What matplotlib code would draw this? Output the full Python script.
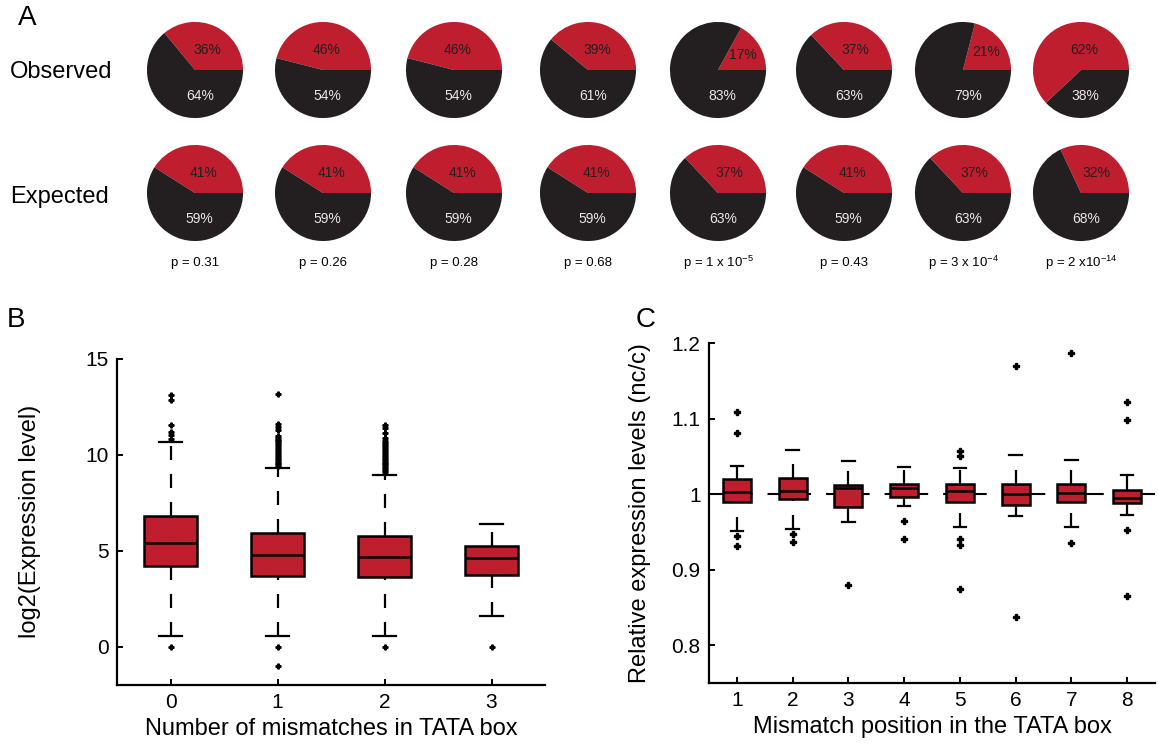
import numpy as np
import matplotlib.pyplot as plt

plt.rcParams['font.family'] = ['Liberation Sans', 'DejaVu Sans']
plt.rcParams['mathtext.fontset'] = 'custom'
plt.rcParams['mathtext.rm'] = 'Liberation Sans'
plt.rcParams['mathtext.it'] = 'Liberation Sans:italic'

RED = '#BE1E2D'
DARK = '#231F20'

# panel A: share of red vs black in each group
obs_red = [36, 46, 46, 39, 17, 37, 21, 62]
exp_red = [41, 41, 41, 41, 37, 41, 37, 32]
p_labels = ['p = 0.31', 'p = 0.26', 'p = 0.28', 'p = 0.68',
            r'p = 1 x 10$^{-5}$', 'p = 0.43', r'p = 3 x 10$^{-4}$',
            r'p = 2 x10$^{-14}$']

# panel B: expression by number of mismatches
b_pos = [0, 1, 2, 3]
b_q1 = [4.22, 3.70, 3.63, 3.75]
b_med = [5.42, 4.79, 4.69, 4.64]
b_q3 = [6.82, 5.94, 5.78, 5.26]
b_lo = [0.57, 0.57, 0.57, 1.61]
b_hi = [10.68, 9.32, 8.96, 6.40]
b_fliers = [
    [0.0, 10.85, 11.05, 11.2, 11.55, 12.86, 13.1],
    [-1.0, 0.0, 9.4, 9.5, 9.6, 9.7, 9.8, 9.9, 10.0, 10.1, 10.2, 10.3,
     10.4, 10.5, 10.6, 10.7, 10.8, 10.9, 11.0, 11.3, 11.45, 11.6, 13.2],
    [0.0, 9.1, 9.2, 9.3, 9.4, 9.5, 9.6, 9.7, 9.8, 9.9, 10.0, 10.1, 10.2,
     10.3, 10.4, 10.5, 10.6, 10.75, 10.9, 11.15, 11.4, 11.55],
    [0.0],
]

# panel C: relative expression by mismatch position
c_pos = [1, 2, 3, 4, 5, 6, 7, 8]
c_q1 = [0.989, 0.993, 0.983, 0.996, 0.989, 0.985, 0.989, 0.988]
c_med = [1.003, 1.004, 1.008, 1.008, 1.004, 1.000, 1.001, 0.995]
c_q3 = [1.020, 1.021, 1.012, 1.013, 1.013, 1.013, 1.013, 1.005]
c_lo = [0.951, 0.954, 0.963, 0.984, 0.956, 0.971, 0.956, 0.973]
c_hi = [1.037, 1.058, 1.044, 1.036, 1.035, 1.052, 1.045, 1.025]
c_fliers = [
    [1.109, 1.081, 0.944, 0.931],
    [0.947, 0.936],
    [0.880],
    [0.964, 0.940],
    [1.057, 1.050, 0.940, 0.932, 0.875],
    [1.169, 0.837],
    [1.187, 0.935],
    [1.122, 1.098, 0.952, 0.865],
]

W, H = 1158, 753
fig = plt.figure(figsize=(W / 100, H / 100), dpi=100)


def px_axes(x0, y0, w, h):
    return fig.add_axes([x0 / W, 1 - (y0 + h) / H, w / W, h / H])


def draw_pie(cx, cy, red):
    d = 98
    ax = px_axes(cx - d / 2, cy - d / 2, d, d)
    black = 100 - red
    ax.pie([red, black], colors=[RED, DARK], startangle=0, counterclock=True,
           wedgeprops=dict(linewidth=0))
    mid = np.deg2rad(red * 3.6 / 2)
    tx = max(0.6 * np.cos(mid), 0.06)
    ty = min(0.6 * np.sin(mid), 0.42)
    ax.text(tx, ty, f'{red}%', ha='center', va='center', fontsize=10, color=DARK)
    ax.text(0.1, -0.55, f'{black}%', ha='center', va='center', fontsize=10,
            color='#E8E8E8')
    ax.set_xlim(-1.02, 1.02)
    ax.set_ylim(-1.02, 1.02)
    ax.set_aspect('auto')
    ax.axis('off')


pie_x = [195, 323, 454, 588, 718, 844, 963, 1081]
for i, cx in enumerate(pie_x):
    draw_pie(cx, 70, obs_red[i])
    draw_pie(cx, 193, exp_red[i])
    fig.text(cx / W, 1 - 263 / H, p_labels[i], ha='center', va='center', fontsize=9.5)

fig.text(10 / W, 1 - 72 / H, 'Observed', ha='left', va='center', fontsize=17)
fig.text(10 / W, 1 - 197 / H, 'Expected', ha='left', va='center', fontsize=17)
fig.text(27 / W, 1 - 18 / H, 'A', ha='center', va='center', fontsize=20)
fig.text(16 / W, 1 - 320 / H, 'B', ha='center', va='center', fontsize=20)
fig.text(646 / W, 1 - 320 / H, 'C', ha='center', va='center', fontsize=20)


def make_stats(q1, med, q3, lo, hi, fliers):
    return [dict(q1=a, med=m, q3=b, whislo=l, whishi=h, fliers=f)
            for a, m, b, l, h, f in zip(q1, med, q3, lo, hi, fliers)]


def draw_boxes(ax, stats, pos, ms):
    art = ax.bxp(stats, positions=pos, widths=0.5, capwidths=0.22,
                 patch_artist=True, showfliers=True,
                 boxprops=dict(facecolor=RED, edgecolor='k', linewidth=1.8),
                 medianprops=dict(color='k', linewidth=1.8),
                 whiskerprops=dict(color='k', linewidth=1.6, linestyle=(0, (6.3, 6.3))),
                 capprops=dict(color='k', linewidth=1.6),
                 flierprops=dict(marker='P', markerfacecolor='k',
                                 markeredgecolor='k', markersize=ms, linestyle='none'))
    # lower whiskers are dashed starting from the cap end
    for w in art['whiskers'][::2]:
        x, y = w.get_data()
        w.set_data(x[::-1], y[::-1])
    return art


def style_axes(ax):
    for s in ['top', 'right']:
        ax.spines[s].set_visible(False)
    for s in ['left', 'bottom']:
        ax.spines[s].set_linewidth(1.6)
    ax.tick_params(direction='in', length=4, width=1.4, labelsize=15, pad=6)


# panel B
axB = fig.add_axes([117 / W, 1 - 685 / H, (545 - 117) / W, (685 - 359) / H])
draw_boxes(axB, make_stats(b_q1, b_med, b_q3, b_lo, b_hi, b_fliers), b_pos, 3.5)
axB.set_xlim(-0.5, 3.5)
axB.set_ylim(-2, 15)
axB.set_xticks(b_pos)
axB.set_xticklabels([str(p) for p in b_pos])
axB.set_yticks([0, 5, 10, 15])
style_axes(axB)
axB.set_xlabel('Number of mismatches in TATA box', fontsize=17, labelpad=4)
fig.text(30 / W, 1 - 521 / H, 'log2(Expression level)', rotation=90,
         ha='center', va='center', fontsize=17)

# panel C
axC = fig.add_axes([709 / W, 1 - 683 / H, (1155 - 709) / W, (683 - 343) / H])
axC.axhline(1, color='k', linewidth=1.5, linestyle=(0, (20.9, 7.2)), zorder=1)
draw_boxes(axC, make_stats(c_q1, c_med, c_q3, c_lo, c_hi, c_fliers), c_pos, 4.5)
axC.set_xlim(0.5, 8.5)
axC.set_ylim(0.75, 1.2)
axC.set_xticks(c_pos)
axC.set_xticklabels([str(p) for p in c_pos])
axC.set_yticks([0.8, 0.9, 1.0, 1.1, 1.2])
axC.set_yticklabels(['0.8', '0.9', '1', '1.1', '1.2'])
style_axes(axC)
axC.set_xlabel('Mismatch position in the TATA box', fontsize=17, labelpad=4)
fig.text(640 / W, 1 - 513 / H, 'Relative expression levels (nc/c)', rotation=90,
         ha='center', va='center', fontsize=17)

fig.savefig('out.png', dpi=100)
